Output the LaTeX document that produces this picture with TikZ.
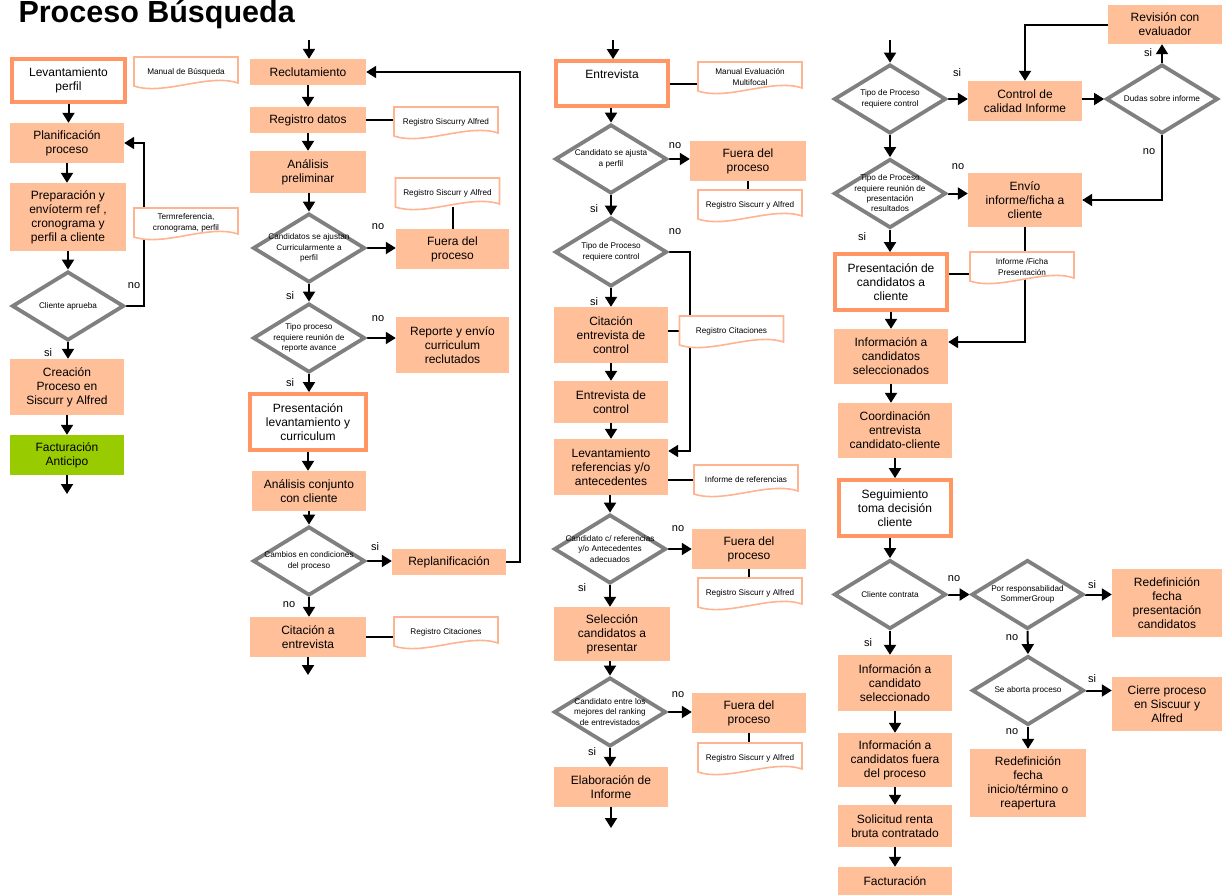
\documentclass[tikz,border=0pt]{standalone}
\usepackage{fontspec}
\setmainfont{Liberation Sans}
\usetikzlibrary{shapes.geometric, arrows.meta, backgrounds}

\definecolor{peach}{RGB}{255,191,153}
\definecolor{keyline}{RGB}{255,150,100}
\definecolor{docedge}{RGB}{255,180,145}
\definecolor{billgreen}{RGB}{153,204,0}
\definecolor{checkgray}{RGB}{128,128,128}

\tikzset{
  sz/.style 2 args={minimum width=#1pt, minimum height=#2pt},
  proc/.style={rectangle, fill=peach, inner sep=1pt, align=center,
    font=\fontsize{12}{14}\selectfont},
  key/.style={proc, fill=white, draw=keyline, line width=3.8pt},
  bill/.style={proc, fill=billgreen},
  check/.style={diamond, draw=checkgray, fill=white, line width=3.8pt,
    inner sep=0pt, minimum width=112pt, minimum height=69pt},
  checktext/.style={align=center, inner sep=0pt,
    font=\fontsize{8.2}{10.3}\selectfont},
  doctext/.style={align=center, inner sep=0pt, minimum width=104pt,
    minimum height=28pt, font=\fontsize{8.2}{10.5}\selectfont},
  docline/.style={draw=docedge, line width=1.6pt, fill=white},
  ans/.style={inner sep=0pt, font=\fontsize{11}{13}\selectfont},
  flow/.style={draw, line width=2pt, -{Triangle[length=10pt, width=12pt]}},
  tie/.style={draw, line width=2pt},
}

\newcommand\docnote[3]{%
  \begin{scope}[shift={(#2)}]
    \path[docline] (-52,-15) -- (52,-15) -- (52,11)
      .. controls +(-30,-10) and +(30,10) .. (-52,14) -- cycle;
  \end{scope}
  \node[doctext] at (#2) (#1) {#3};}

\begin{document}
\begin{tikzpicture}[x=1pt, y=-1pt]
\useasboundingbox (0,0) rectangle (1222,894);
\node[anchor=base west, font=\bfseries\fontsize{30.5}{36}\selectfont] at (15,22) (title) {Proceso Búsqueda};

% column 1
\node[key, sz={113}{43}] at (68.5,80.5) (lev) {Levantamiento\\perfil};
\node[proc, sz={114}{40}] at (67,143) (plan) {Planificación\\proceso};
\node[proc, sz={116}{68}] at (68,217) (prep) {Preparación y\\envíoterm ref ,\\cronograma y\\perfil a cliente};
\node[check] at (68,306) (q1) {};
\node[checktext] at (q1) (q1t) {Cliente aprueba};
\node[proc, sz={114}{56}] at (67,387) (crea) {Creación\\Proceso en\\Siscurr y Alfred};
\node[bill, sz={114}{40}] at (67,455) (fact) {Facturación\\Anticipo};
\docnote{manual}{186,72}{Manual de Búsqueda}
\docnote{term}{186,223}{Termreferencia,\\cronograma, perfil}
\node[ans] at (134,286) (q1no) {no};
\node[ans] at (48,353) (q1si) {si};
\coordinate (c1out) at (67,494);

% column 2
\coordinate (c2in) at (309,40);
\node[proc, sz={116}{26}] at (308,72) (recl) {Reclutamiento};
\node[proc, sz={116}{26}] at (308,120) (regd) {Registro datos};
\node[proc, sz={116}{42}] at (308,172) (anal) {Análisis\\preliminar};
\node[check] at (309,248) (q2) {};
\node[checktext] at (q2) (q2t) {Candidatos se ajustan\\Curricularmente a\\perfil};
\node[proc, sz={113}{40}] at (452.5,249) (fuera1) {Fuera del\\proceso};
\node[check] at (309,338) (q3) {};
\node[checktext] at (q3) (q3t) {Tipo proceso\\requiere reunión de\\reporte avance};
\node[proc, sz={113}{56}] at (452.5,345) (repo) {Reporte y envío\\curriculum\\reclutados};
\node[key, sz={116}{56}] at (308,422) (pres1) {Presentación\\levantamiento y\\curriculum};
\node[proc, sz={114}{40}] at (309,491) (conj) {Análisis conjunto\\con cliente};
\node[check] at (309,561) (q4) {};
\node[checktext] at (q4) (q4t) {Cambios en condiciones\\del proceso};
\node[proc, sz={114}{26}] at (449,562) (repl) {Replanificación};
\node[proc, sz={116}{40}] at (308,637) (cita) {Citación a\\entrevista};
\docnote{regsa0}{446,122}{Registro Siscurry Alfred}
\docnote{regsa1}{447.5,193}{Registro Siscurr y Alfred}
\docnote{regc1}{446,632}{Registro Citaciones}
\node[ans] at (378,227) (q2no) {no};
\node[ans] at (290,296) (q2si) {si};
\node[ans] at (378,319) (q3no) {no};
\node[ans] at (290,383) (q3si) {si};
\node[ans] at (375,547) (q4si) {si};
\node[ans] at (289,605) (q4no) {no};
\coordinate (c2out) at (308,675);

% column 3
\coordinate (c3in) at (613,40);
\node[key, sz={112}{45}] at (612,83.5) (entr) {Entrevista\\[5pt]\mbox{}};
\node[check] at (611,159) (q5) {};
\node[checktext] at (q5) (q5t) {Candidato se ajusta\\a perfil};
\node[proc, sz={116}{40}] at (748,161) (fuera2) {Fuera del\\proceso};
\node[check] at (611,252) (q6) {};
\node[checktext] at (q6) (q6t) {Tipo de Proceso\\requiere control};
\node[proc, sz={114}{56}] at (611,335) (citc) {Citación\\entrevista de\\control};
\node[proc, sz={114}{42}] at (611,402) (entc) {Entrevista de\\control};
\node[proc, sz={114}{56}] at (611,467) (levr) {Levantamiento\\referencias y/o\\antecedentes};
\node[check] at (610,549) (q7) {};
\node[checktext] at (q7) (q7t) {Candidato c/ referencias\\y/o Antecedentes\\adecuados};
\node[proc, sz={114}{40}] at (749,549) (fuera3) {Fuera del\\proceso};
\node[proc, sz={116}{54}] at (612,634) (selc) {Selección\\candidatos a\\presentar};
\node[check] at (610,712) (q8) {};
\node[checktext] at (q8) (q8t) {Candidato entre los\\mejores del ranking\\de entrevistados};
\node[proc, sz={114}{40}] at (749,713) (fuera4) {Fuera del\\proceso};
\node[proc, sz={114}{40}] at (611,787) (elab) {Elaboración de\\Informe};
\docnote{manev}{750,77}{Manual Evaluación\\Multifocal}
\docnote{regsa2}{750,205}{Registro Siscurr y Alfred}
\docnote{regc2}{731.5,331}{Registro Citaciones}
\docnote{infr}{746,480}{Informe de referencias}
\docnote{regsa3}{750,593}{Registro Siscurr y Alfred}
\docnote{regsa4}{750,758}{Registro Siscurr y Alfred}
\node[ans] at (675,146) (q5no) {no};
\node[ans] at (594,209) (q5si) {si};
\node[ans] at (675,232) (q6no) {no};
\node[ans] at (594,302) (q6si) {si};
\node[ans] at (678,529) (q7no) {no};
\node[ans] at (582,588) (q7si) {si};
\node[ans] at (678,695) (q8no) {no};
\node[ans] at (592,752) (q8si) {si};
\coordinate (j6) at (690,451);
\coordinate (c3out) at (611,828);

% column 4
\coordinate (c4in) at (890,40);
\node[check] at (890,99) (q9) {};
\node[checktext] at (q9) (q9t) {Tipo de Proceso\\requiere control};
\node[proc, sz={114}{40}] at (1025,101) (ctrl) {Control de\\calidad Informe};
\node[check] at (1162,99) (q10) {};
\node[checktext] at (q10) (q10t) {Dudas sobre informe};
\node[proc, sz={114}{39}] at (1165,24.5) (revi) {Revisión con\\evaluador};
\node[check] at (890,193.5) (q11) {};
\node[checktext] at (q11) (q11t) {Tipo de Proceso\\requiere reunión de\\presentación\\resultados};
\node[proc, sz={114}{54}] at (1025,200) (envi) {Envío\\informe/ficha a\\cliente};
\node[key, sz={112}{56}] at (891,282) (pres2) {Presentación de\\candidatos a\\cliente};
\node[proc, sz={114}{55}] at (891,356.5) (infs) {Información a\\candidatos\\seleccionados};
\node[proc, sz={114}{55}] at (895,430.5) (coor) {Coordinación\\entrevista\\candidato-cliente};
\node[key, sz={112}{56}] at (895,508) (segu) {Seguimiento\\toma decisión\\cliente};
\node[check] at (890,594.5) (q12) {};
\node[checktext] at (q12) (q12t) {Cliente contrata};
\node[check] at (1027.5,594.5) (q13) {};
\node[checktext] at (q13) (q13t) {Por responsabilidad\\SommerGroup};
\node[proc, sz={110}{68}] at (1167,603) (redf1) {Redefinición\\fecha\\presentación\\candidatos};
\node[check] at (1028,690.5) (q14) {};
\node[checktext] at (q14) (q14t) {Se aborta proceso};
\node[proc, sz={110}{54}] at (1167,704) (cier) {Cierre proceso\\en Siscuur y\\Alfred};
\node[proc, sz={116}{68}] at (1028,783) (redf2) {Redefinición\\fecha\\inicio/término o\\reapertura};
\node[proc, sz={114}{56}] at (895,683) (info1) {Información a\\candidato\\seleccionado};
\node[proc, sz={114}{54}] at (895,760) (info2) {Información a\\candidatos fuera\\del proceso};
\node[proc, sz={114}{42}] at (895,826) (soli) {Solicitud renta\\bruta contratado};
\node[proc, sz={114}{28}] at (895,881) (fact2) {Facturación};
\docnote{infp}{1022,267}{Informe /Ficha\\Presentación}
\node[ans] at (957,73) (q9si) {si};
\node[ans] at (1148,53) (q10si) {si};
\node[ans] at (1149,152) (q10no) {no};
\node[ans] at (958,167) (q11no) {no};
\node[ans] at (862,237) (q11si) {si};
\node[ans] at (954,579) (q12no) {no};
\node[ans] at (868,643) (q12si) {si};
\node[ans] at (1092,585) (q13si) {si};
\node[ans] at (1012,638) (q13no) {no};
\node[ans] at (1092,679) (q14si) {si};
\node[ans] at (1012,732) (q14no) {no};
\coordinate (j11) at (1025,342);

\begin{scope}[on background layer]
  \draw[flow] (lev.south) -- (lev.south |- plan.north);
  \draw[flow] (plan.south) -- (plan.south |- prep.north);
  \draw[flow] (q1.north |- prep.south) -- (q1.north);
  \draw[flow] (q1.south) -- (q1.south |- crea.north);
  \draw[flow] (crea.south) -- (crea.south |- fact.north);
  \draw[flow] (fact.south) -- (c1out);
  \draw[flow] (q1.east) -- ++(18,0) |- (plan.east);

  \draw[flow] (c2in) -- (c2in |- recl.north);
  \draw[flow] (recl.south) -- (recl.south |- regd.north);
  \draw[flow] (regd.south) -- (regd.south |- anal.north);
  \draw[flow] (q2.north |- anal.south) -- (q2.north);
  \draw[flow] (q2.east) -- (q2.east -| fuera1.west);
  \draw[tie] (fuera1.north) -- (fuera1.north |- regsa1.south);
  \draw[tie] (regd.east) -- (regd.east -| regsa0.west);
  \draw[flow] (q2.south) -- (q3.north);
  \draw[flow] (q3.east) -- (q3.east -| repo.west);
  \draw[flow] (q3.south) -- (q3.south |- pres1.north);
  \draw[flow] (pres1.south) -- (pres1.south |- conj.north);
  \draw[flow] (q4.north |- conj.south) -- (q4.north);
  \draw[flow] (q4.east) -- (q4.east -| repl.west);
  \draw[flow] (q4.south) -- (q4.south |- cita.north);
  \draw[flow] (cita.south) -- (c2out);
  \draw[tie] (cita.east) -- (cita.east -| regc1.west);
  \draw[flow] (repl.east) -- ++(14,0) |- (recl.east);

  \draw[flow] (c3in) -- (c3in |- entr.north);
  \draw[tie] (entr.east) -- (entr.east -| manev.west);
  \draw[flow] (q5.north |- entr.south) -- (q5.north);
  \draw[flow] (q5.east) -- (q5.east -| fuera2.west);
  \draw[tie] (fuera2.south) -- (fuera2.south |- regsa2.north);
  \draw[flow] (q5.south) -- (q6.north);
  \draw[flow] (q6.east) -| (j6) -- (j6 -| levr.east);
  \draw[flow] (q6.south) -- (q6.south |- citc.north);
  \draw[tie] (regc2.west -| citc.east) -- (regc2.west);
  \draw[flow] (citc.south) -- (citc.south |- entc.north);
  \draw[flow] (entc.south) -- (entc.south |- levr.north);
  \draw[tie] (infr.west -| levr.east) -- (infr.west);
  \draw[flow] (q7.north |- levr.south) -- (q7.north);
  \draw[flow] (q7.east) -- (q7.east -| fuera3.west);
  \draw[tie] (fuera3.south) -- (fuera3.south |- regsa3.north);
  \draw[flow] (q7.south) -- (q7.south |- selc.north);
  \draw[flow] (q8.north |- selc.south) -- (q8.north);
  \draw[flow] (q8.east) -- (q8.east -| fuera4.west);
  \draw[tie] (fuera4.south) -- (fuera4.south |- regsa4.north);
  \draw[flow] (q8.south) -- (q8.south |- elab.north);
  \draw[flow] (elab.south) -- (c3out);

  \draw[flow] (c4in) -- (q9.north);
  \draw[flow] (q9.east) -- (q9.east -| ctrl.west);
  \draw[flow] (q10.west -| ctrl.east) -- (q10.west);
  \draw[flow] (q10.north) -- (q10.north |- revi.south);
  \draw[flow] (revi.west) -| (ctrl.north);
  \draw[flow] (q10.south) |- (envi.east);
  \draw[flow] (q9.south) -- (q11.north);
  \draw[flow] (q11.east) -- (q11.east -| envi.west);
  \draw[flow] (envi.south) -- (j11) -- (j11 -| infs.east);
  \draw[flow] (q11.south) -- (q11.south |- pres2.north);
  \draw[tie] ([yshift=8pt]pres2.east) -- ++(22,0);
  \draw[flow] (pres2.south) -- (pres2.south |- infs.north);
  \draw[flow] (infs.south) -- (infs.south |- coor.north);
  \draw[flow] (coor.south) -- (coor.south |- segu.north);
  \draw[flow] (q12.north |- segu.south) -- (q12.north);
  \draw[flow] (q12.east) -- (q13.west);
  \draw[flow] (q13.east) -- (q13.east -| redf1.west);
  \draw[flow] (q13.south) -- (q14.north);
  \draw[flow] (q14.east) -- (q14.east -| cier.west);
  \draw[flow] (q14.south) -- (q14.south |- redf2.north);
  \draw[flow] (q12.south) -- (q12.south |- info1.north);
  \draw[flow] (info1.south) -- (info1.south |- info2.north);
  \draw[flow] (info2.south) -- (info2.south |- soli.north);
  \draw[flow] (soli.south) -- (soli.south |- fact2.north);
\end{scope}
\end{tikzpicture}
\end{document}
